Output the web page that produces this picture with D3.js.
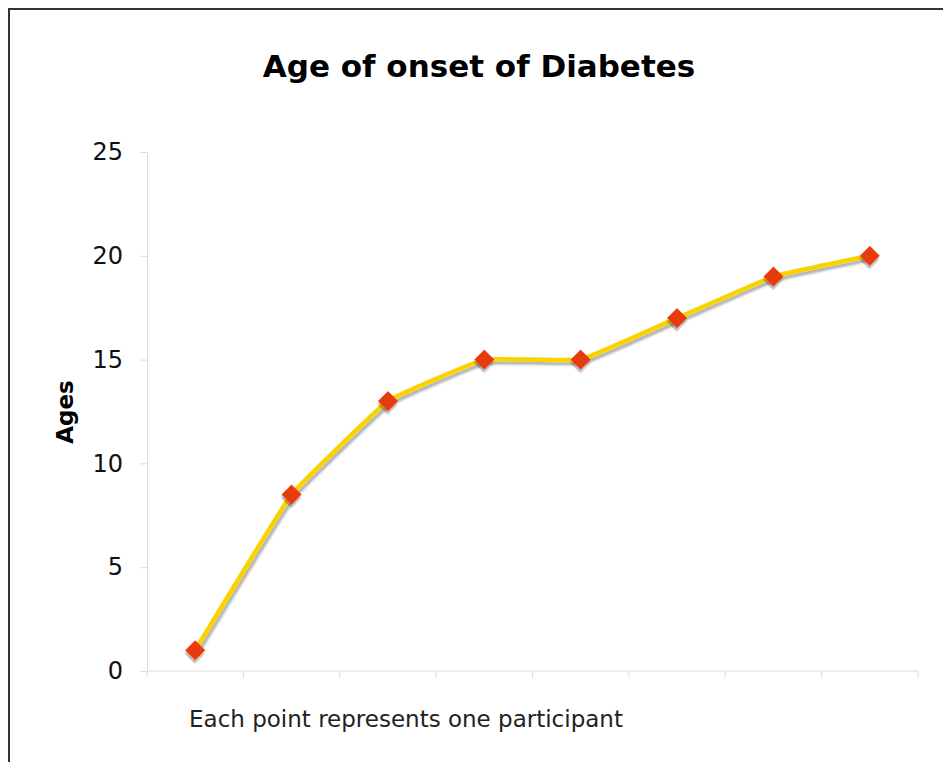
<!DOCTYPE html>
<html>
<head>
<meta charset="utf-8">
<script src="https://cdn.jsdelivr.net/npm/d3@7"></script>
<style>
  body { margin: 0; background: #fff; }
  svg { display: block; }
</style>
</head>
<body>
<div id="chart"></div>
<script>
// participants, one point each
const participants = ["1", "2", "3", "4", "5", "6", "7", "8"];
const ages = [1, 8.5, 13, 15, 15, 17, 19, 20];
const yTicks = [0, 5, 10, 15, 20, 25];

const width = 943, height = 762;
const margin = { top: 152, right: 25, bottom: 91, left: 147 };

const svg = d3.select("#chart").append("svg")
    .attr("width", width)
    .attr("height", height);

// frame
svg.append("rect")
    .attr("x", 9).attr("y", 9)
    .attr("width", width + 10).attr("height", height + 10)
    .attr("fill", "none")
    .attr("stroke", "#333")
    .attr("stroke-width", 2);

const defs = svg.append("defs");
const f = defs.append("filter").attr("id", "shadow")
    .attr("x", "-20%").attr("y", "-20%").attr("width", "140%").attr("height", "140%");
f.append("feDropShadow")
    .attr("dx", 2).attr("dy", 3)
    .attr("stdDeviation", 1.2)
    .attr("flood-color", "#000")
    .attr("flood-opacity", 0.3);

const x = d3.scaleBand()
    .domain(participants)
    .range([margin.left, width - margin.right]);

const y = d3.scaleLinear()
    .domain([0, 25])
    .range([height - margin.bottom, margin.top]);

// y axis
const yAxis = svg.append("g")
    .attr("transform", `translate(${margin.left},0)`)
    .call(d3.axisLeft(y).tickValues(yTicks).tickSize(7).tickPadding(17).tickSizeOuter(0));
yAxis.select(".domain").attr("stroke", "#ddd");
yAxis.selectAll(".tick line").attr("stroke", "#ddd");
yAxis.selectAll(".tick text")
    .attr("font-family", "DejaVu Sans, Verdana, sans-serif")
    .attr("font-size", 24)
    .attr("fill", "#111");

// x axis: ticks on band edges, no labels
const edges = participants.map(p => x(p)).concat([x.range()[1]]);
const xg = svg.append("g");
xg.append("line")
    .attr("x1", x.range()[0]).attr("x2", x.range()[1])
    .attr("y1", y(0)).attr("y2", y(0))
    .attr("stroke", "#ddd");
xg.selectAll(".xtick")
    .data(edges)
    .join("line")
    .attr("class", "xtick")
    .attr("x1", d => d).attr("x2", d => d)
    .attr("y1", y(0)).attr("y2", y(0) + 7)
    .attr("stroke", "#ddd");

// line
const line = d3.line()
    .x((d, i) => x(participants[i]) + x.bandwidth() / 2)
    .y(d => y(d))
    .curve(d3.curveCardinal.tension(0.75));

svg.append("path")
    .datum(ages)
    .attr("d", line)
    .attr("fill", "none")
    .attr("stroke", "#fad200")
    .attr("stroke-width", 4.5)
    .attr("filter", "url(#shadow)");

// diamond markers
const sym = d3.symbol().type(d3.symbolSquare).size(200);
svg.selectAll(".pt")
    .data(ages)
    .join("path")
    .attr("class", "pt")
    .attr("d", sym)
    .attr("transform", (d, i) => `translate(${x(participants[i]) + x.bandwidth() / 2},${y(d)}) rotate(45)`)
    .attr("fill", "#e83a0c")
    .attr("filter", "url(#shadow)");

// title
svg.append("text")
    .attr("x", 479).attr("y", 77)
    .attr("text-anchor", "middle")
    .attr("font-family", "DejaVu Sans, sans-serif")
    .attr("font-weight", "bold")
    .attr("font-size", 31)
    .attr("fill", "#000")
    .text("Age of onset of Diabetes");

// y label
svg.append("text")
    .attr("transform", "translate(73,412) rotate(-90)")
    .attr("text-anchor", "middle")
    .attr("font-family", "DejaVu Sans, Verdana, sans-serif")
    .attr("font-weight", "bold")
    .attr("font-size", 23)
    .attr("fill", "#000")
    .text("Ages");

// note
svg.append("text")
    .attr("x", 189).attr("y", 727)
    .attr("font-family", "DejaVu Sans, Verdana, sans-serif")
    .attr("font-size", 23)
    .attr("fill", "#222")
    .text("Each point represents one participant");
</script>
</body>
</html>
